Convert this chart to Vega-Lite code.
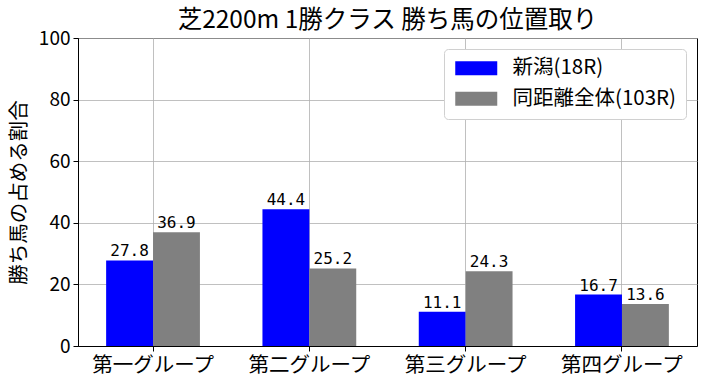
{
  "$schema": "https://vega.github.io/schema/vega-lite/v6.json",
  "width": 619,
  "height": 308,
  "autosize": "none",
  "padding": {"left": 78, "top": 38, "right": 9, "bottom": 40},
  "background": "white",
  "config": {
    "font": "Noto Sans CJK JP",
    "view": {"stroke": "black", "strokeWidth": 1},
    "axis": {"gridColor": "#b0b0b0", "gridWidth": 0.8, "gridOpacity": 1, "domainColor": "black", "tickColor": "black", "labelColor": "black", "titleColor": "black", "labelFont": "Noto Sans CJK JP", "titleFont": "Noto Sans CJK JP", "zindex": 1}
  },
  "title": {"text": "芝2200m 1勝クラス 勝ち馬の位置取り", "fontSize": 24.5, "fontWeight": "normal", "font": "Noto Sans CJK JP", "anchor": "middle", "offset": -4, "color": "black"},
  "data": {
    "values": [
      {"group": "第一グループ", "series": "新潟(18R)", "value": 27.8},
      {"group": "第一グループ", "series": "同距離全体(103R)", "value": 36.9},
      {"group": "第二グループ", "series": "新潟(18R)", "value": 44.4},
      {"group": "第二グループ", "series": "同距離全体(103R)", "value": 25.2},
      {"group": "第三グループ", "series": "新潟(18R)", "value": 11.1},
      {"group": "第三グループ", "series": "同距離全体(103R)", "value": 24.3},
      {"group": "第四グループ", "series": "新潟(18R)", "value": 16.7},
      {"group": "第四グループ", "series": "同距離全体(103R)", "value": 13.6}
    ]
  },
  "encoding": {
    "x": {"field": "group", "type": "nominal", "sort": ["第一グループ", "第二グループ", "第三グループ", "第四グループ"],
      "scale": {"paddingInner": 0.4, "paddingOuter": 0.18},
      "axis": {"title": null, "labelAngle": 0, "labelFontSize": 20.5, "grid": true, "bandPosition": 0.5, "tickSize": 5, "labelPadding": 4}},
    "xOffset": {"field": "series", "type": "nominal", "sort": ["新潟(18R)", "同距離全体(103R)"], "scale": {"paddingInner": 0, "paddingOuter": 0}},
    "y": {"field": "value", "type": "quantitative", "scale": {"domain": [0, 100], "nice": false},
      "axis": {"title": "勝ち馬の占める割合", "titleFontSize": 20.5, "titleFontWeight": "normal", "labelFontSize": 19, "values": [0, 20, 40, 60, 80, 100], "tickSize": 5, "labelPadding": 3, "titlePadding": 9}}
  },
  "layer": [
    {
      "mark": {"type": "bar"},
      "encoding": {
        "color": {"field": "series", "type": "nominal", "sort": ["新潟(18R)", "同距離全体(103R)"],
          "scale": {"domain": ["新潟(18R)", "同距離全体(103R)"], "range": ["#0000ff", "#808080"]},
          "legend": {"title": null, "orient": "none", "legendX": 366, "legendY": 11, "labelFontSize": 20.5, "labelLimit": 400, "labelFont": "Noto Sans CJK JP", "labelColor": "black",
            "symbolType": "M-3,-1L3,-1L3,1L-3,1Z", "symbolSize": 196, "symbolOffset": 13, "symbolOpacity": 1, "symbolStrokeWidth": 0,
            "fillColor": "white", "strokeColor": "#d0d0d0", "cornerRadius": 4, "padding": 9, "rowPadding": 9.5, "labelOffset": 26, "zindex": 2}}
      }
    },
    {
      "mark": {"type": "text", "baseline": "bottom", "dy": -1, "fontSize": 16, "font": "DejaVu Sans Mono", "color": "black"},
      "encoding": {"text": {"field": "value", "type": "quantitative", "format": ".1f"}}
    }
  ]
}
